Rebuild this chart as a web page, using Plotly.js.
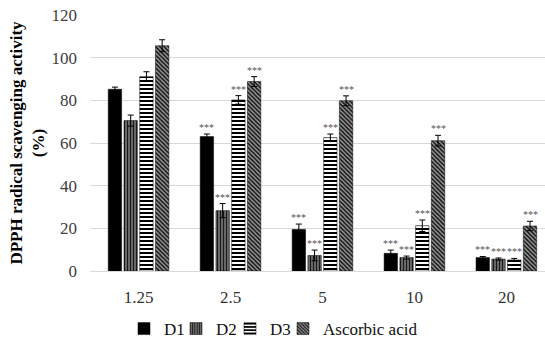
<!DOCTYPE html>
<html><head><meta charset="utf-8">
<script src="https://cdn.plot.ly/plotly-3.0.1.min.js"></script>
<style>html,body{margin:0;padding:0;background:#fff}#c{width:545px;height:339px}</style>
</head><body><div id="c"></div>
<script>
const categories = ["1.25", "2.5", "5", "10", "20"];
const seriesNames = ["D1", "D2", "D3", "Ascorbic acid"];
const d1 = [85.2, 63.0, 19.5, 8.3, 6.3];
const d1Err = [1.0, 1.2, 2.5, 1.5, 0.5];
const d2 = [70.5, 28.3, 7.3, 6.3, 5.6];
const d2Err = [2.6, 3.3, 2.5, 0.7, 0.5];
const d3 = [91.1, 80.2, 62.5, 21.2, 5.2];
const d3Err = [2.3, 2.0, 1.7, 2.7, 0.7];
const asc = [105.6, 88.8, 79.8, 61.1, 21.1];
const ascErr = [2.8, 2.3, 2.3, 2.5, 2.2];
const sig = [
  ["", "***", "***", "***", "***"],
  ["", "***", "***", "***", "***"],
  ["", "***", "***", "***", "***"],
  ["", "***", "***", "***", "***"]
];

const values = [d1, d2, d3, asc];
const errs = [d1Err, d2Err, d3Err, ascErr];
const patterns = [
  {shape: "", fgcolor: "#000", bgcolor: "#000"},
  {shape: "|", fgcolor: "#1a1a1a", bgcolor: "#9a9a9a", size: 3, solidity: 0.6},
  {shape: "-", fgcolor: "#000", bgcolor: "#fff", size: 4, solidity: 0.5},
  {shape: "\\", fgcolor: "#111", bgcolor: "#9a9a9a", size: 3, solidity: 0.5}
];
const serif = "'Liberation Serif', 'Times New Roman', serif";
const bargap = 0.315;
const legendIds = ["legend", "legend2", "legend3", "legend4"];
const legendX = [124, 176, 230, 283];

const traces = seriesNames.map((n, j) => ({
  type: "bar",
  name: n,
  x: categories,
  y: values[j],
  legend: legendIds[j],
  marker: {
    color: j === 0 ? "#000" : patterns[j].bgcolor,
    line: {color: "#000", width: 0.5},
    pattern: j === 0 ? {shape: ""} : patterns[j]
  },
  error_y: {type: "data", array: errs[j], visible: true, color: "#000", thickness: 1, width: 3}
}));

const annotations = [];
const slot = (1 - bargap) / seriesNames.length;
seriesNames.forEach((n, j) => {
  categories.forEach((c, i) => {
    if (!sig[j][i]) return;
    annotations.push({
      x: i + (j - 1.5) * slot,
      y: values[j][i] + errs[j][i],
      xref: "x", yref: "y",
      text: sig[j][i],
      showarrow: false,
      yanchor: "bottom",
      yshift: -1,
      font: {family: serif, size: 10, color: "#555"}
    });
  });
});

const layout = {
  width: 545, height: 339,
  margin: {l: 90, r: 0, t: 15, b: 68},
  paper_bgcolor: "#fff", plot_bgcolor: "#fff",
  barmode: "group",
  bargap: bargap,
  bargroupgap: 0.15,
  showlegend: true,
  xaxis: {
    type: "category",
    range: [-0.528, 4.42],
    showgrid: false, zeroline: false,
    showline: true, linecolor: "#d9d9d9", linewidth: 1,
    ticks: "", ticklabelstandoff: 11,
    tickfont: {family: serif, size: 17, color: "#333"}
  },
  yaxis: {
    range: [0, 120], dtick: 20,
    showgrid: true, gridcolor: "#d9d9d9", gridwidth: 1,
    zeroline: false, showline: false, ticks: "",
    ticklabelstandoff: 12,
    tickfont: {family: serif, size: 17, color: "#404040"},
    title: {
      text: "<b>DPPH radical scavenging activity</b><br><b>(%)</b>",
      font: {family: serif, size: 17, color: "#000"},
      standoff: 2
    }
  },
  annotations: annotations
};
legendIds.forEach((id, j) => {
  layout[id] = {
    orientation: "h", xref: "container", yref: "container",
    x: legendX[j] / 545, xanchor: "left",
    y: 1 - 329 / 339, yanchor: "middle",
    font: {family: serif, size: 17, color: "#111"},
    itemwidth: 30, bgcolor: "rgba(0,0,0,0)"
  };
});

Plotly.newPlot("c", traces, layout, {displayModeBar: false, staticPlot: true});
</script></body></html>
